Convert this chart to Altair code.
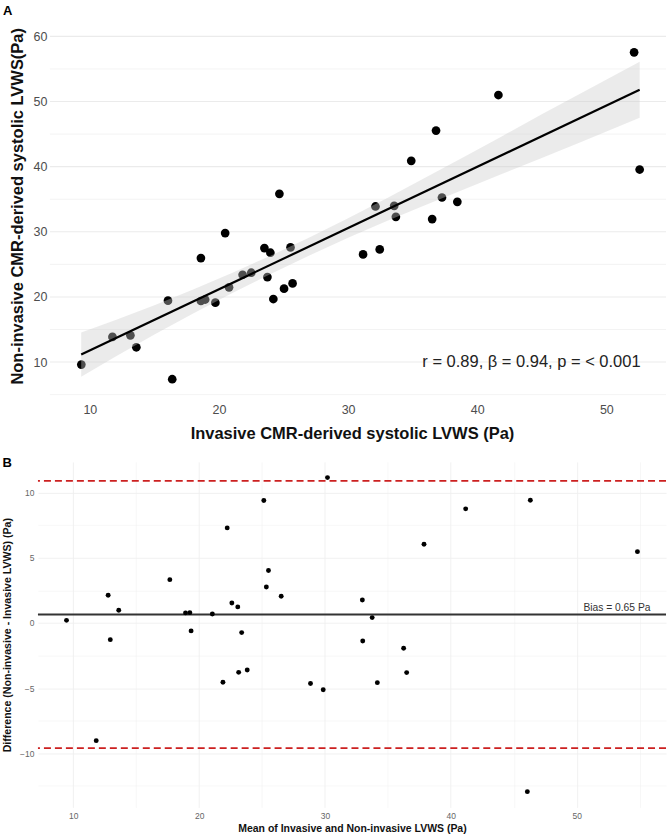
import altair as alt
import pandas as pd

FONT = "Liberation Sans"

# ---------------- Panel A: correlation ----------------
invasive = [9.34, 11.75, 13.14, 13.6, 16.38, 16.05, 18.6, 18.6, 18.93, 19.72,
            20.48, 20.78, 21.83, 22.5, 23.52, 23.98, 23.75, 24.21, 24.68, 25.04,
            25.54, 25.7, 31.16, 32.12, 32.45, 33.57, 33.7, 34.89, 36.51, 36.81,
            37.27, 38.46, 41.64, 52.15, 52.58]
noninvasive = [9.62, 13.86, 14.1, 12.27, 7.37, 19.43, 25.97, 19.38, 19.6, 19.12,
               29.8, 21.47, 23.41, 23.72, 27.5, 26.79, 23.05, 19.68, 35.83, 21.27,
               27.6, 22.08, 26.53, 33.89, 27.3, 33.99, 32.3, 40.89, 31.95, 45.54,
               35.27, 34.6, 51.0, 57.55, 39.56]

band_x = [9.33, 12, 15, 18, 21, 24, 27, 30, 33, 36, 39, 42, 45, 48, 52.58]
band_lo = [7.75, 10.86, 14.23, 17.45, 20.57, 23.54, 26.38, 29.08, 31.65, 34.12,
           36.54, 38.96, 41.33, 43.75, 47.51]
band_hi = [14.55, 16.46, 18.73, 21.15, 23.67, 26.34, 29.14, 32.08, 35.15, 38.32,
           41.54, 44.76, 48.03, 51.25, 56.11]

fit_x = [9.33, 52.58]
fit_y = [11.15, 51.81]

stat_label = ["r = 0.89, \u03b2 = 0.94, p = < 0.001"]
stat_x = [44.2]
stat_y = [10.0]

ticksA_x = [10, 15, 20, 25, 30, 35, 40, 45, 50]
ticksA_y = [10, 20, 30, 40, 50, 60]
gridA_major_y = [10, 20, 30, 40, 50, 60]
gridA_minor_y = [5, 15, 25, 35, 45, 55]
panelA_x_range = [6.91, 54.62]   # left/right edge of panel A's drawing region

# ---------------- Panel B: Bland-Altman ----------------
ba_mean = [9.46, 11.82, 12.77, 12.94, 13.61, 17.67, 18.92, 19.26, 19.36, 21.05,
           21.89, 22.23, 22.6, 23.07, 23.14, 23.38, 23.82, 25.14, 25.34, 25.51,
           26.52, 28.85, 29.86, 30.2, 32.97, 33.0, 33.75, 34.16, 36.25, 36.49,
           37.87, 41.18, 46.08, 46.32, 54.83]
ba_diff = [0.2, -9.03, 2.12, -1.28, 0.97, 3.32, 0.77, 0.79, -0.61, 0.69,
           -4.55, 7.29, 1.53, 1.23, -3.79, -0.74, -3.61, 9.39, 2.76, 4.02,
           2.05, -4.65, -5.12, 11.15, 1.76, -1.38, 0.41, -4.58, -1.94, -3.81,
           6.04, 8.75, -12.94, 9.41, 5.47]

bias = [0.65]
limits = [10.9, -9.6]
bias_label = ["Bias = 0.65 Pa"]
bias_label_x = [53.2]

ticksB_x = [10, 15, 20, 25, 30, 35, 40, 45, 50, 55]
ticksB_y = [-12.5, -10, -7.5, -5, -2.5, 0, 2.5, 5, 7.5, 10]

# ---------------- data frames ----------------
dfA = pd.DataFrame({"x": invasive, "y": noninvasive})
dfBand = pd.DataFrame({"x": band_x, "y": band_lo, "y2": band_hi})
dfFit = pd.DataFrame({"x": fit_x, "y": fit_y})
dfStat = pd.DataFrame({"x": stat_x, "y": stat_y, "t": stat_label})
dfGridMaj = pd.DataFrame({"y": gridA_major_y})
dfGridMin = pd.DataFrame({"y": gridA_minor_y})

dfB = pd.DataFrame({"x": ba_mean, "y": ba_diff})
dfBias = pd.DataFrame({"y": bias})
dfLim = pd.DataFrame({"y": limits})
dfBiasLbl = pd.DataFrame({"x": bias_label_x, "y": bias, "t": bias_label})

# ---------------- axes ----------------
def grid_width(step, major, minor):
    return {"condition": {"test": f"datum.value % {step} === 0", "value": major}, "value": minor}

axA_x = alt.Axis(title="Invasive CMR-derived systolic LVWS (Pa)", values=ticksA_x,
                 labelExpr="datum.value % 10 === 0 ? datum.label : ''",
                 ticks=False, domain=False, gridColor="#ebebeb",
                 gridWidth=grid_width(10, 1.1, 0.6),
                 labelFontSize=12.5, labelColor="#4d4d4d", labelPadding=5,
                 titleFontSize=16.5, titleFontWeight="bold", titleColor="#111111",
                 titlePadding=10)
axA_y = alt.Axis(title="Non-invasive CMR-derived systolic LVWS(Pa)", values=ticksA_y,
                 ticks=False, domain=False, grid=False, offset=-12,
                 labelFontSize=12.5, labelColor="#4d4d4d", labelPadding=3,
                 titleFontSize=16.5, titleFontWeight="bold", titleColor="#111111",
                 titlePadding=8)
scA_x = alt.Scale(domain=[5.98, 54.62], nice=False, zero=False)
scA_y = alt.Scale(domain=[4.48, 63.5], nice=False, zero=False)

XA = alt.X("x:Q", scale=scA_x, axis=axA_x)
YA = alt.Y("y:Q", scale=scA_y, axis=axA_y)

gridMajA = alt.Chart(dfGridMaj).mark_rule(color="#ebebeb", strokeWidth=1.1).encode(
    y=YA, x=alt.datum(panelA_x_range[0]), x2=alt.datum(panelA_x_range[1]))
gridMinA = alt.Chart(dfGridMin).mark_rule(color="#ebebeb", strokeWidth=0.6).encode(
    y=YA, x=alt.datum(panelA_x_range[0]), x2=alt.datum(panelA_x_range[1]))
pointsA = alt.Chart(dfA).mark_circle(size=76, color="black", opacity=1).encode(x=XA, y=YA)
bandA = alt.Chart(dfBand).mark_area(color="#cccccc", opacity=0.39).encode(x=XA, y=YA, y2="y2:Q")
lineA = alt.Chart(dfFit).mark_line(color="black", strokeWidth=2.2).encode(x=XA, y=YA)
textA = alt.Chart(dfStat).mark_text(fontSize=16.5, color="#222222", align="center",
                                    baseline="middle").encode(x=XA, y=YA, text="t:N")

panelA = alt.layer(gridMinA, gridMajA, pointsA, bandA, lineA, textA).properties(
    width=629, height=385,
    title=alt.TitleParams("A", anchor="start", frame="bounds", fontSize=13,
                          fontWeight="bold", offset=-4, dx=-6, color="black"))

axB_x = alt.Axis(title="Mean of Invasive and Non-invasive LVWS (Pa)", values=ticksB_x,
                 labelExpr="datum.value % 10 === 0 ? datum.label : ''",
                 ticks=False, domain=False, gridColor="#efefef",
                 gridWidth=grid_width(10, 0.9, 0.5),
                 labelFontSize=8.5, labelColor="#666666", labelPadding=4,
                 titleFontSize=10.5, titleFontWeight="bold", titleColor="#111111",
                 titlePadding=4)
axB_y = alt.Axis(title="Difference (Non-invasive - Invasive LVWS) (Pa)", values=ticksB_y,
                 labelExpr="datum.value % 5 === 0 ? datum.label : ''",
                 ticks=False, domain=False, gridColor="#efefef",
                 gridWidth=grid_width(5, 0.9, 0.5),
                 labelFontSize=8.5, labelColor="#666666", labelPadding=4,
                 titleFontSize=10.6, titleFontWeight="bold", titleColor="#111111",
                 titlePadding=7)
scB_x = alt.Scale(domain=[7.19, 57.1], nice=False, zero=False)
scB_y = alt.Scale(domain=[-14.15, 12.35], nice=False, zero=False)

XB = alt.X("x:Q", scale=scB_x, axis=axB_x)
YB = alt.Y("y:Q", scale=scB_y, axis=axB_y)

limB = alt.Chart(dfLim).mark_rule(color="#cc2020", strokeDash=[7, 4], strokeWidth=1.6).encode(y=YB)
biasB = alt.Chart(dfBias).mark_rule(color="#333333", strokeWidth=2).encode(y=YB)
pointsB = alt.Chart(dfB).mark_circle(size=24, color="black", opacity=1).encode(x=XB, y=YB)
textB = alt.Chart(dfBiasLbl).mark_text(fontSize=10.3, color="#333333", align="center",
                                       baseline="alphabetic", dy=-3).encode(x=XB, y=YB, text="t:N")

panelB = alt.layer(limB, biasB, pointsB, textB).properties(
    width=629, height=346,
    title=alt.TitleParams("B", anchor="start", frame="bounds", fontSize=13,
                          fontWeight="bold", offset=-8, color="black"))

chart = alt.vconcat(panelA, panelB, spacing=15).configure(
    font=FONT, padding={"left": 2, "top": 4, "right": 0, "bottom": 0}
).configure_view(stroke=None)

chart.save("out.html", embed_options={"renderer": "svg", "actions": False})
